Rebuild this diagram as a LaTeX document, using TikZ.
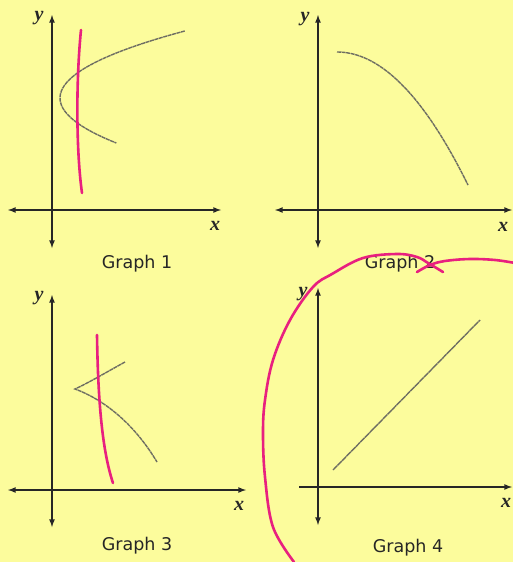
\documentclass[tikz,border=0pt]{standalone}
\usepackage{fontspec}
\usepackage{tikz}
\usetikzlibrary{arrows,positioning}
\usepackage{xcolor}
\definecolor{Paper}{HTML}{FCFC9C}
\definecolor{Ink}{HTML}{262626}
\definecolor{Pencil}{HTML}{6E6E62}
\definecolor{Marker}{HTML}{E8207F}
\newfontfamily\capfont{DejaVu Sans}
\newfontfamily\varfont{Liberation Serif}

\begin{document}
\begin{tikzpicture}[
  x=1pt, y=-1pt,
  axis/.style={<->, >=latex, line width=1.6pt, color=Ink},
  curve/.style={line width=1.4pt, color=Pencil, dash pattern=on 4pt off 0.6pt},
  pen/.style={line width=2.6pt, color=Marker, line cap=round},
  var/.style={font=\varfont\bfseries\itshape\fontsize{20}{20}\selectfont, text=Ink, inner sep=0pt},
  gtitle/.style={font=\capfont\fontsize{17.5}{20}\selectfont, text=Ink, inner sep=0pt}
]
  \fill[Paper] (0,0) rectangle (513,562);
  \useasboundingbox (0,0) rectangle (513,562);

  \coordinate (a1t) at (52,15);  \coordinate (a1b) at (52,248);
  \coordinate (a1l) at (8,210);  \coordinate (a1r) at (221,210);
  \draw[axis] (a1b) -- (a1t);
  \draw[axis] (a1l) -- (a1r);
  \node[var] (y1) at (39,18) {y};
  \node[var] (x1) at (215,226) {x};
  \node[gtitle] (g1) at (137,264) {Graph 1};
  \draw[curve] plot[domain=-67:45, samples=40] ({60+0.0278*\x*\x},{98+\x});
  \draw[pen] (81,30) .. controls (76,80) and (76,150) .. (82,193);

  \coordinate (a2t) at (318,15);  \coordinate (a2b) at (318,248);
  \coordinate (a2l) at (275,210); \coordinate (a2r) at (512,210);
  \draw[axis] (a2b) -- (a2t);
  \draw[axis] (a2l) -- (a2r);
  \node[var] (y2) at (305,19) {y};
  \node[var] (x2) at (503,227) {x};
  \node[gtitle] (g2) at (400,264) {Graph 2};
  \draw[curve] plot[domain=0:131, samples=40] ({337+\x},{52+0.00775*\x*\x});

  \coordinate (a3t) at (52,295);  \coordinate (a3b) at (52,527);
  \coordinate (a3l) at (8,490);   \coordinate (a3r) at (246,490);
  \draw[axis] (a3b) -- (a3t);
  \draw[axis] (a3l) -- (a3r);
  \node[var] (y3) at (39,298) {y};
  \node[var] (x3) at (239,506) {x};
  \node[gtitle] (g3) at (137,546) {Graph 3};
  \draw[curve] (125,362) .. controls (105,373) and (90,382) .. (75,389)
               .. controls (105,400) and (135,425) .. (157,462);
  \draw[pen] (97,335) .. controls (98,400) and (102,450) .. (113,483);

  \coordinate (a4t) at (318,288); \coordinate (a4b) at (318,525);
  \coordinate (a4l) at (299,487); \coordinate (a4r) at (512,487);
  \draw[axis] (a4b) -- (a4t);
  \draw[axis, <-] (a4r) -- (a4l);
  \node[var] (y4) at (303,294) {y};
  \node[var] (x4) at (506,503) {x};
  \node[gtitle] (g4) at (408,548) {Graph 4};
  \draw[curve, dash pattern=on 6pt off 0.5pt] (333,470) -- (480,320);

  \draw[pen] plot[smooth, tension=0.6] coordinates {(294,562) (273,527) (265,477) (263,433)
     (265,400) (273,360) (290,320) (313,287) (332,274) (363,258) (397,254)
     (417,257) (428,263) (443,272)};
  \draw[pen] plot[smooth, tension=0.6] coordinates {(417,272) (430,265) (445,261)
     (470,259) (495,260) (515,263)};
\end{tikzpicture}
\end{document}
